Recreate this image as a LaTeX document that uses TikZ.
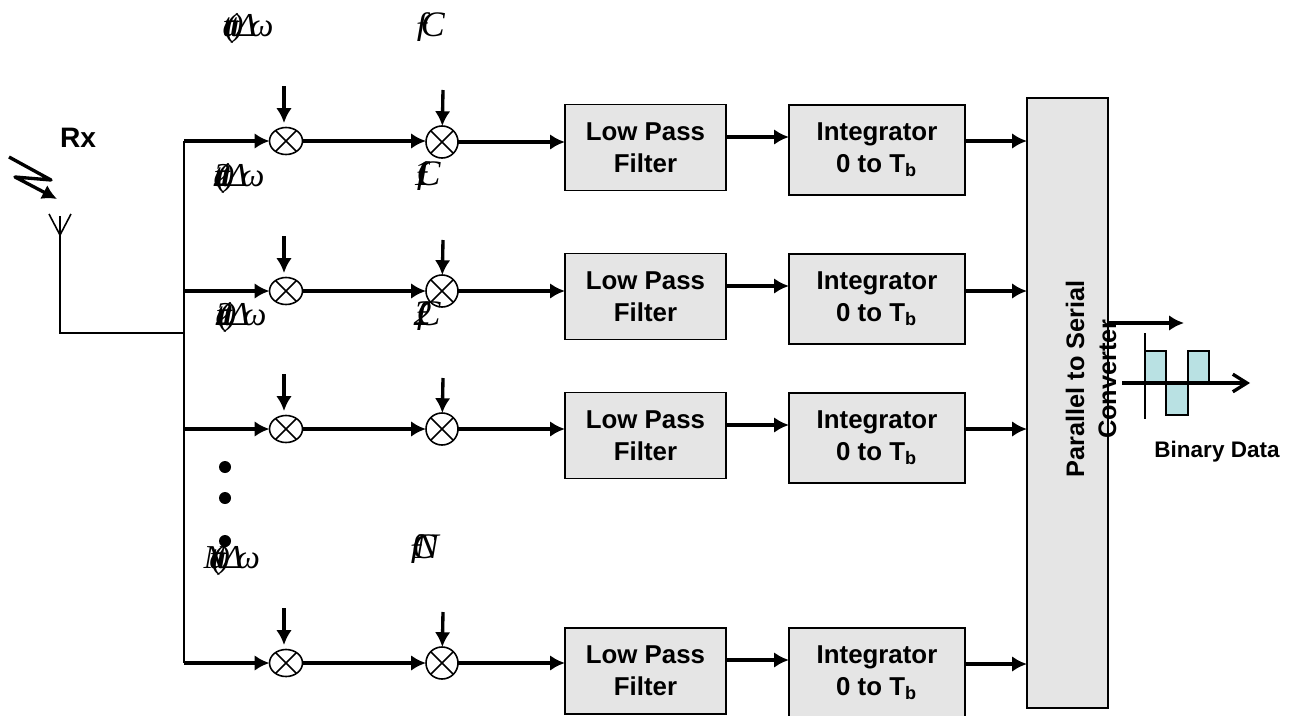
\documentclass[tikz,border=0pt]{standalone}
\usepackage{fontspec}
\setmainfont{Liberation Sans}
\newfontfamily\labelfont{Liberation Serif}
\usetikzlibrary{arrows.meta,calc,positioning,shapes.geometric}
\definecolor{pulsefill}{HTML}{B9E1E3}
\newcommand{\bk}{\kern-.2em}
\newcommand{\bigbk}{\kern-.5em}
\tikzset{
  >={Latex[length=4.2pt,width=4.4pt]},
  wire/.style={line width=0.95pt,line join=round},
  thinwire/.style={line width=0.45pt},
  block/.style={draw,fill=black!10,line width=0.45pt,align=center,inner sep=0pt,outer sep=0pt,
    font=\fontsize{7.35}{9}\selectfont\bfseries},
  lpf/.style={block,minimum width=1.61cm,minimum height=0.86cm},
  integ/.style={block,minimum width=1.76cm,minimum height=0.90cm},
  mixa/.style={draw,ellipse,fill=white,line width=0.45pt,minimum width=0.33cm,minimum height=0.27cm,inner sep=0pt,outer sep=0pt},
  mixb/.style={draw,circle,fill=white,line width=0.45pt,minimum size=0.32cm,inner sep=0pt,outer sep=0pt},
  ovleft/.style={inner sep=0pt,anchor=base west,font=\fontsize{9.5}{10}\selectfont\labelfont\itshape},
  ovright/.style={inner sep=0pt,anchor=base west,font=\fontsize{10.2}{11}\selectfont\labelfont\itshape},
  dotmark/.style={circle,fill=black,inner sep=0pt,minimum size=0.12cm}
}
\begin{document}
\begin{tikzpicture}[x=0.01cm,y=-0.01cm]
  \useasboundingbox (0,0) rectangle (1294,715);
  % output block
  \node [block,minimum width=0.81cm,minimum height=6.10cm] at (1067.5,403) (ptos) {};
  \node [font=\fontsize{7.2}{9.1}\selectfont\bfseries,align=center,rotate=90,inner sep=0pt]
    at (1091,379) (ptoslabel) {Parallel to Serial\\Converter}
  ;
  % filters
  \node [lpf] at (645.5,147.5) (lpf1) {Low Pass\\Filter};
  \node [lpf] at (645.5,296.5) (lpf2) {Low Pass\\Filter};
  \node [lpf] at (645.5,435.5) (lpf3) {Low Pass\\Filter};
  \node [lpf] at (645.5,671) (lpf4) {Low Pass\\Filter};
  % integrators
  \node [integ] at (877,150) (int1) {Integrator\\0 to T\textsubscript{b}};
  \node [integ] at (877,299) (int2) {Integrator\\0 to T\textsubscript{b}};
  \node [integ] at (877,438) (int3) {Integrator\\0 to T\textsubscript{b}};
  \node [integ] at (877,673) (int4) {Integrator\\0 to T\textsubscript{b}};
  % mixers
  \node [mixa] at (286,141) (mixa1) {};
  \node [mixa] at (286,291) (mixa2) {};
  \node [mixa] at (286,429) (mixa3) {};
  \node [mixa] at (286,663) (mixa4) {};
  \node [mixb] at (442,142) (mixb1) {};
  \node [mixb] at (442,291) (mixb2) {};
  \node [mixb] at (442,429) (mixb3) {};
  \node [mixb] at (442,663) (mixb4) {};
  \draw [thinwire]
    (mixa1.45) -- (mixa1.225) (mixa1.135) -- (mixa1.315)
    (mixa2.45) -- (mixa2.225) (mixa2.135) -- (mixa2.315)
    (mixa3.45) -- (mixa3.225) (mixa3.135) -- (mixa3.315)
    (mixa4.45) -- (mixa4.225) (mixa4.135) -- (mixa4.315)
    (mixb1.45) -- (mixb1.225) (mixb1.135) -- (mixb1.315)
    (mixb2.45) -- (mixb2.225) (mixb2.135) -- (mixb2.315)
    (mixb3.45) -- (mixb3.225) (mixb3.135) -- (mixb3.315)
    (mixb4.45) -- (mixb4.225) (mixb4.135) -- (mixb4.315)
  ;
  % trunk
  \coordinate (stub1) at (184,141);
  \coordinate (stub2) at (184,291);
  \coordinate (stub3) at (184,429);
  \coordinate (stub4) at (184,663);
  \coordinate (feed) at (184,333);
  \draw [thinwire] (stub1) -- (stub4);
  % first row
  \draw [wire,->] (stub1) -- (mixa1);
  \draw [wire,->] (mixa1) -- (mixb1.west |- mixa1);
  \draw [wire,->] (mixb1) -- (lpf1.west |- mixb1);
  \draw [wire,->] (lpf1.east |- 0,137) -- (int1.west |- 0,137);
  \draw [wire,->] (int1.east |- 0,141) -- (ptos.west |- 0,141);
  % second row
  \draw [wire,->] (stub2) -- (mixa2);
  \draw [wire,->] (mixa2) -- (mixb2.west);
  \draw [wire,->] (mixb2) -- (lpf2.west |- mixb2);
  \draw [wire,->] (lpf2.east |- 0,286) -- (int2.west |- 0,286);
  \draw [wire,->] (int2.east |- 0,291) -- (ptos.west |- 0,291);
  % third row
  \draw [wire,->] (stub3) -- (mixa3);
  \draw [wire,->] (mixa3) -- (mixb3.west);
  \draw [wire,->] (mixb3) -- (lpf3.west |- mixb3);
  \draw [wire,->] (lpf3.east |- 0,425) -- (int3.west |- 0,425);
  \draw [wire,->] (int3.east |- 0,429) -- (ptos.west |- 0,429);
  % fourth row
  \draw [wire,->] (stub4) -- (mixa4);
  \draw [wire,->] (mixa4) -- (mixb4.west);
  \draw [wire,->] (mixb4) -- (lpf4.west |- mixb4);
  \draw [wire,->] (lpf4.east |- 0,660) -- (int4.west |- 0,660);
  \draw [wire,->] (int4.east |- 0,664) -- (ptos.west |- 0,664);
  % local oscillator inputs
  \coordinate (loa1) at (284,86);
  \coordinate (loa2) at (284,236);
  \coordinate (loa3) at (284,374);
  \coordinate (loa4) at (284,608);
  \coordinate (lob1) at (443,90);
  \coordinate (lob2) at (443,240);
  \coordinate (lob3) at (443,378);
  \coordinate (lob4) at (443,612);
  \draw [wire,->] (loa1) -- (284,123);
  \draw [wire,->] (loa2) -- (284,273);
  \draw [wire,->] (loa3) -- (284,411);
  \draw [wire,->] (loa4) -- (284,645);
  \draw [wire,->] (lob1) -- (mixb1);
  \draw [wire,->] (lob2) -- (mixb2);
  \draw [wire,->] (lob3) -- (mixb3);
  \draw [wire,->] (lob4) -- (mixb4);
  % antenna
  \coordinate (anttop) at (60,216);
  \coordinate (antfoot) at (60,235);
  \coordinate (antbase) at (60,333);
  \coordinate (antl) at (49,214);
  \coordinate (antr) at (71,214);
  \draw [thinwire] (anttop) -- (antbase) -- (feed);
  \draw [thinwire] (antl) -- (antfoot) -- (antr);
  \node [font=\fontsize{8}{9}\selectfont\bfseries,inner sep=0pt] at (78,138) (rx) {Rx};
  % incoming signal
  \coordinate (bolt1) at (9,157);
  \coordinate (bolt2) at (51,180);
  \coordinate (bolt3) at (15,177);
  \coordinate (bolt4) at (57,199);
  \draw [wire,->] (bolt1) -- (bolt2) -- (bolt3) -- (bolt4);
  % dots
  \node [dotmark] at (225,467) (dot1) {};
  \node [dotmark] at (225,498) (dot2) {};
  \node [dotmark] at (225,541) (dot3) {};
  % overprinted equations
  \node [ovleft] at (222,37) (eqa1) {a\bigbk t\bk(\bk t\bk)\bk Δ\bk ω};
  \node [ovleft] at (213,186) (eqa2) {2\bigbk a\bigbk t\bk(\bk t\bk)\bk Δ\bk ω};
  \node [ovleft] at (215,325) (eqa3) {2\bigbk a\bigbk t\bk(\bk t\bk)\bk Δ\bk ω};
  \node [ovleft] at (203,568) (eqa4) {N\bigbk a\bigbk t\bk(\bk t\bk)\bk Δ\bk ω};
  \node [ovright] at (413,37) (eqb1) {ƒ\kern-.3em C};
  \node [ovright] at (413,185) (eqb2) {ƒ\bigbk 1\kern-.42em C};
  \node [ovright] at (413,325) (eqb3) {ƒ\bigbk 2\kern-.42em C};
  \node [ovright] at (407,558) (eqb4) {ƒ\kern-.3em N\kern-.75em C};
  % binary output
  \coordinate (outend) at (1184,323);
  \draw [wire,->] (ptos.east |- outend) -- (outend);
  \coordinate (pulse1) at (1145,351);
  \coordinate (pulse2) at (1166,383);
  \coordinate (pulse3) at (1188,415);
  \coordinate (pulse4) at (1209,351);
  \draw [fill=pulsefill,line width=0.5pt] (pulse1) rectangle (pulse2);
  \draw [fill=pulsefill,line width=0.5pt] (pulse2) rectangle (pulse3);
  \draw [fill=pulsefill,line width=0.5pt] (pulse3 |- pulse1) rectangle (pulse4 |- pulse2);
  \coordinate (axisl) at (1122,383);
  \coordinate (axisr) at (1250,383);
  \coordinate (axist) at (1145,333);
  \coordinate (axisb) at (1145,419);
  \draw [wire,-{Straight Barb[length=4pt,width=5pt]}] (axisl) -- (axisr);
  \draw [thinwire] (axist) -- (axisb);
  \node [font=\fontsize{6.4}{8}\selectfont\bfseries,inner sep=0pt] at (1217,452) (binlabel) {Binary Data};
\end{tikzpicture}
\end{document}
